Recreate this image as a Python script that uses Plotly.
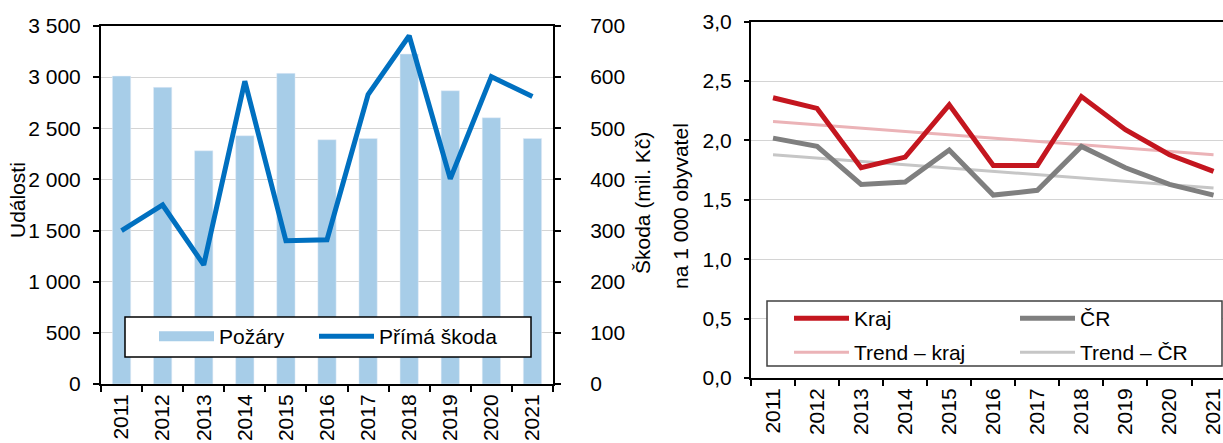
import plotly.graph_objects as go

W, H = 1223, 443

years = ["2011", "2012", "2013", "2014", "2015", "2016", "2017", "2018", "2019", "2020", "2021"]
pozary = [3010, 2900, 2280, 2427, 3037, 2388, 2400, 3226, 2867, 2603, 2400]
prima_skoda = [300, 350, 233, 592, 280, 282, 566, 681, 401, 601, 562]

kraj = [2.36, 2.27, 1.77, 1.86, 2.30, 1.79, 1.79, 2.37, 2.09, 1.88, 1.74]
cr = [2.02, 1.95, 1.63, 1.65, 1.92, 1.54, 1.58, 1.95, 1.77, 1.63, 1.54]
trend_years = ["2011", "2021"]
trend_kraj = [2.16, 1.88]
trend_cr = [1.88, 1.60]

left_ticks = [0, 500, 1000, 1500, 2000, 2500, 3000, 3500]
left_ticktext = ["0", "500", "1 000", "1 500", "2 000", "2 500", "3 000", "3 500"]
right_ticks = [0, 100, 200, 300, 400, 500, 600, 700]
r_ticks = [0, 0.5, 1.0, 1.5, 2.0, 2.5, 3.0]
r_ticktext = ["0,0", "0,5", "1,0", "1,5", "2,0", "2,5", "3,0"]

FONT = "Liberation Sans, Arial, sans-serif"
FS = 21
C_BAR = "#A7CDE8"
C_LINE = "#0070C0"
C_KRAJ = "#C4161F"
C_CR = "#7F7F7F"
C_TK = "#EBB3B7"
C_TC = "#C6C6C6"
GRID = "#D4D4D4"


def px(x):
    return x / W


def py(y):
    return 1 - y / H


fig = go.Figure()

# left chart
fig.add_trace(go.Bar(x=years, y=pozary, marker_color=C_BAR, showlegend=False,
                     xaxis="x", yaxis="y"))
fig.add_trace(go.Scatter(x=[years[0]], y=[None], mode="lines", name="Požáry",
                         line=dict(color=C_BAR, width=11), legend="legend",
                         xaxis="x", yaxis="y"))
fig.add_trace(go.Scatter(x=years, y=prima_skoda, mode="lines", name="Přímá škoda",
                         line=dict(color=C_LINE, width=5), legend="legend", legendwidth=130,
                         xaxis="x", yaxis="y2"))

# right chart
fig.add_trace(go.Scatter(x=trend_years, y=trend_kraj, mode="lines", name="Trend – kraj",
                         line=dict(color=C_TK, width=3), legend="legend3",
                         xaxis="x3", yaxis="y3"))
fig.add_trace(go.Scatter(x=trend_years, y=trend_cr, mode="lines", name="Trend – ČR",
                         line=dict(color=C_TC, width=3), legend="legend3", legendwidth=130,
                         xaxis="x3", yaxis="y3"))
fig.add_trace(go.Scatter(x=years, y=cr, mode="lines", name="ČR",
                         line=dict(color=C_CR, width=5), legend="legend2", legendwidth=130,
                         xaxis="x3", yaxis="y3"))
fig.add_trace(go.Scatter(x=years, y=kraj, mode="lines", name="Kraj",
                         line=dict(color=C_KRAJ, width=5), legend="legend2",
                         xaxis="x3", yaxis="y3"))

axis_common = dict(showline=True, linecolor="black", linewidth=2, ticks="outside",
                   tickcolor="black", tickwidth=1.5, automargin=False,
                   tickfont=dict(size=FS, color="black"))

legend_common = dict(orientation="h", xanchor="left", yanchor="top", bgcolor="rgba(0,0,0,0)",
                     borderwidth=0, font=dict(size=FS, color="black"), itemwidth=55,
                     traceorder="reversed")

fig.update_layout(
    width=W, height=H,
    margin=dict(l=0, r=0, t=0, b=0),
    paper_bgcolor="white", plot_bgcolor="white",
    font=dict(family=FONT, size=FS, color="black"),
    bargap=0.555,
    xaxis=dict(axis_common, domain=[px(101), px(553)], anchor="y", type="category",
               tickson="boundaries", ticklen=6, tickangle=-90, mirror=True,
               range=[-0.5, 10.5]),
    yaxis=dict(axis_common, domain=[py(384), py(26)], anchor="x", range=[0, 3500],
               tickvals=left_ticks, ticktext=left_ticktext, ticklen=6,
               showgrid=True, gridcolor=GRID, gridwidth=1, ticklabelstandoff=8),
    yaxis2=dict(axis_common, overlaying="y", side="right", anchor="x", range=[0, 700],
                tickvals=right_ticks, ticklen=6, showgrid=False, ticklabelstandoff=25),
    xaxis3=dict(axis_common, domain=[px(751), 1.0], anchor="y3", type="category",
                categoryorder="array", categoryarray=years,
                tickson="boundaries", ticklen=6, tickangle=-90, mirror=True,
                range=[-0.5, 10.215]),
    yaxis3=dict(axis_common, domain=[py(378), py(21.7)], anchor="x3", range=[0, 3],
                tickvals=r_ticks, ticktext=r_ticktext, ticklen=5,
                showgrid=True, gridcolor=GRID, gridwidth=1, ticklabelstandoff=8),
    legend=dict(legend_common, x=px(154), y=py(316), entrywidth=90, traceorder="normal"),
    legend2=dict(legend_common, x=px(789), y=py(298), entrywidth=156),
    legend3=dict(legend_common, x=px(789), y=py(332), entrywidth=156, traceorder="normal"),
    shapes=[
        dict(type="rect", xref="paper", yref="paper", x0=px(125), x1=px(531),
             y0=py(357), y1=py(317), fillcolor="white", line=dict(color="black", width=1.5),
             layer="above"),
        dict(type="rect", xref="paper", yref="paper", x0=px(767), x1=px(1222),
             y0=py(366), y1=py(301), fillcolor="white", line=dict(color="#404040", width=1.5),
             layer="above"),
    ],
    annotations=[
        dict(text="Události", xref="paper", yref="paper", x=px(18), y=py(200),
             xanchor="center", yanchor="middle", textangle=-90, showarrow=False),
        dict(text="Škoda (mil. Kč)", xref="paper", yref="paper", x=px(642), y=py(203),
             xanchor="center", yanchor="middle", textangle=-90, showarrow=False),
        dict(text="na 1 000 obyvatel", xref="paper", yref="paper", x=px(681), y=py(206),
             xanchor="center", yanchor="middle", textangle=-90, showarrow=False),
    ],
)

fig.write_html("out.html", config={"displayModeBar": False},
               post_script="document.body.style.margin='0';")
